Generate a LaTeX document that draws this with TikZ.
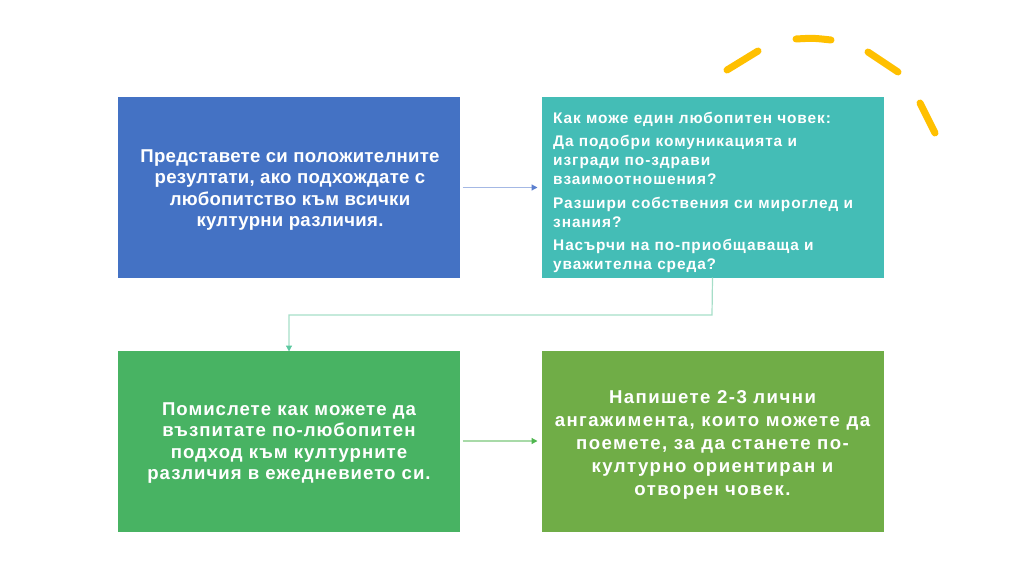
\documentclass[tikz,border=0pt]{standalone}
\usepackage{fontspec}
\setmainfont{Liberation Sans}
\usetikzlibrary{arrows.meta}
\definecolor{cblue}{HTML}{4472C4}
\definecolor{cteal}{HTML}{44BDB6}
\definecolor{cgreen}{HTML}{48B363}
\definecolor{colive}{HTML}{70AD47}
\definecolor{ablue}{HTML}{A4B8E4}
\definecolor{ablueh}{HTML}{5B7FCF}
\definecolor{ateal}{HTML}{A6DEC8}
\definecolor{atealh}{HTML}{5CC9A0}
\definecolor{agreen}{HTML}{A8DAA8}
\definecolor{agreenh}{HTML}{4FB64F}
\definecolor{cyellow}{HTML}{FFC000}
\tikzset{
  box/.style={draw=white, line width=1pt, minimum width=343pt, minimum height=182pt, inner sep=0pt},
  btext/.style={text=white, align=center, inner sep=0pt},
  conn/.style={line width=1.2pt},
  dashy/.style={cyellow, line width=7pt, line cap=round}
}
\begin{document}
\begin{tikzpicture}[x=1pt,y=-1pt]
\useasboundingbox (0,0) rectangle (1024,576);
\node[box, fill=cblue] (b1) at (289,187.5) {};
\node[box, fill=cteal] (b2) at (712.5,187.5) {};
\node[box, fill=cgreen] (b3) at (289,441) {};
\node[box, fill=colive] (b4) at (712.5,441) {};
\node[btext, font=\bfseries\fontsize{18.6}{21.4}\selectfont\addfontfeature{LetterSpace=1.5}] (t1) at (290,190) {Представете си положителните\\резултати, ако подхождате с\\любопитство към всички\\културни различия.};
\node[btext, font=\bfseries\fontsize{18.6}{21.3}\selectfont\addfontfeature{LetterSpace=5.4}] (t3) at (289,443) {Помислете как можете да\\възпитате по-любопитен\\подход към културните\\различия в ежедневието си.};
\node[btext, font=\bfseries\fontsize{18.6}{23}\selectfont\addfontfeature{LetterSpace=7.7}] (t4) at (712.5,445) {Напишете 2-3 лични\\ангажимента, които можете да\\поемете, за да станете по-\\културно ориентиран и\\отворен човек.};
\node[text=white, font=\bfseries\fontsize{15.4}{18.8}\selectfont\addfontfeature{LetterSpace=6}, align=left, anchor=north west, inner sep=0pt] (t2) at (553,111.5) {Как може един любопитен човек:\\[5pt]Да подобри комуникацията и\\изгради по-здрави\\взаимоотношения?\\[5pt]Разшири собствения си мироглед и\\знания?\\[5pt]Насърчи на по-приобщаваща и\\уважителна среда?};
\coordinate (k1) at (712,315);
\coordinate (k2) at (289,315);
\draw[conn, draw=ablue, -{Triangle[length=6pt,width=6pt,color=ablueh]}] (b1.east) ++(1.5,0) -- ([xshift=-3pt]b2.west);
\draw[conn, draw=ateal, -{Triangle[length=6pt,width=6pt,color=atealh]}] ([yshift=1.5pt]b2.south) -- (k1) -- (k2) -- ([yshift=-2pt]b3.north);
\draw[conn, draw=agreen, -{Triangle[length=6pt,width=6pt,color=agreenh]}] (b3.east) ++(1.5,0) -- ([xshift=-3pt]b4.west);
\draw[dashy] (727,70) -- (758,51);
\draw[dashy] (796,39) .. controls (813,38) .. (831,40);
\draw[dashy] (868,52) -- (898,72);
\draw[dashy] (920,103) -- (935,133);
\end{tikzpicture}
\end{document}
